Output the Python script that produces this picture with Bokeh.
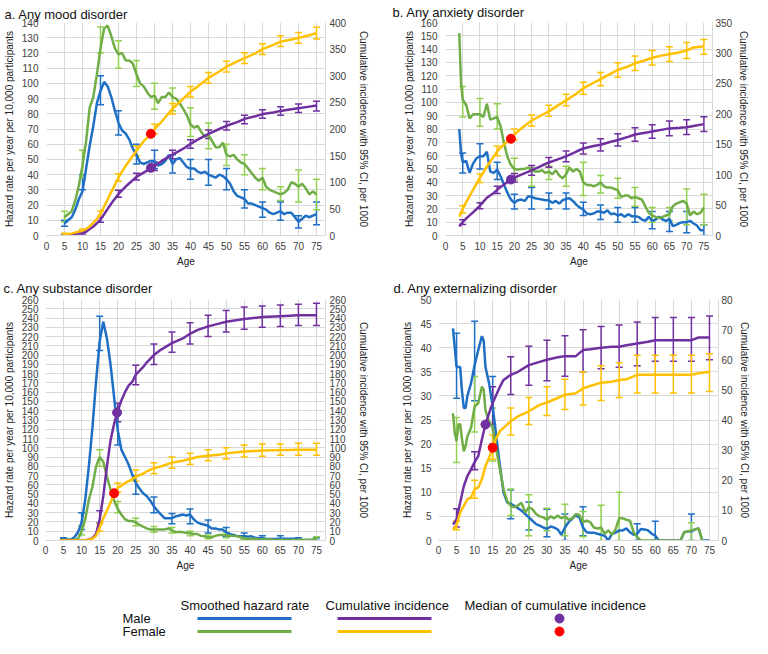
from bokeh.plotting import figure
from bokeh.models import Range1d, LinearAxis, Whisker, ColumnDataSource, FixedTicker, TeeHead
from bokeh.layouts import column, row
from bokeh.embed import file_html
from bokeh.resources import INLINE
from bokeh.core.properties import value

# ---------------- data ----------------
err_ages = [5, 10, 15, 20, 25, 30, 35, 40, 45, 50, 55, 60, 65, 70, 75]

# a. Any mood disorder
a_haz_age = list(range(5, 76))
a_male_haz = [8, 10, 12, 17, 24, 29, 44, 59, 72, 87, 95, 101, 98, 91, 82, 74, 69, 67, 63, 57,
              53, 48, 47, 48, 49, 49, 46, 47, 49, 53, 47, 50, 51, 48, 45, 44, 44, 42, 41, 42,
              40, 39, 38, 40, 39, 37, 34, 29, 26, 25, 24, 21, 21, 20, 19, 18, 17, 15, 14, 15,
              16, 14, 15, 15, 12, 9, 11, 13, 12, 13, 14]
a_female_haz = [12, 14, 16, 23, 33, 46, 62, 84, 91, 106, 123, 136, 138, 131, 123, 119, 120, 115, 115, 113,
                106, 100, 98, 94, 91, 92, 87, 91, 91, 94, 91, 90, 87, 83, 79, 73, 71, 72, 68, 65,
                66, 62, 58, 58, 61, 53, 52, 53, 50, 48, 47, 44, 41, 38, 36, 38, 32, 30, 29, 28,
                27, 28, 30, 35, 34, 32, 34, 31, 27, 29, 27]
a_male_haz_lo = [6, 30, 86, 66, 47, 44, 41, 37, 33, 30, 18, 12, 10, 5, 7]
a_male_haz_hi = [10, 40, 105, 82, 60, 56, 53, 50, 50, 44, 30, 22, 22, 13, 22]
a_female_haz_lo = [9, 38, 120, 110, 98, 83, 82, 65, 57, 46, 40, 30, 23, 22, 17]
a_female_haz_hi = [16, 56, 137, 128, 115, 100, 97, 84, 74, 60, 53, 44, 32, 43, 37]
a_cum_age = [4.5, 7, 10, 11, 12, 13, 14, 15, 16, 17, 18, 20, 22, 25, 27, 29, 30, 32, 35, 38,
             40, 42, 45, 48, 50, 53, 55, 58, 60, 63, 65, 68, 70, 73, 75]
a_male_cum = [0, 2, 5, 7, 12, 17, 23, 30, 40, 50, 60, 78, 92, 110, 118, 126, 130, 140, 152, 163,
              172, 180, 191, 200, 206, 213, 219, 224, 228, 231, 234, 237, 239, 242, 244]
a_female_cum = [1, 4, 9, 12, 17, 24, 31, 41, 54, 68, 82, 109, 131, 159, 177, 191, 200, 214, 238, 257,
                270, 280, 296, 308, 317, 327, 333, 342, 350, 358, 364, 368, 371, 376, 380]
a_male_cum_lo = [0, 3, 25, 72, 104, 122, 144, 164, 182, 198, 210, 220, 226, 231, 234]
a_male_cum_hi = [3, 9, 35, 85, 117, 138, 160, 180, 198, 214, 226, 236, 242, 247, 252]
a_female_cum_lo = [0, 6, 36, 102, 150, 191, 228, 260, 286, 307, 323, 340, 355, 361, 369]
a_female_cum_hi = [4, 12, 46, 116, 168, 209, 248, 280, 306, 327, 343, 360, 375, 381, 391]
a_median_age = [29, 29]
a_median_val = [127, 191]

# b. Any anxiety disorder
b_haz_age = [4, 4.5] + list(range(5, 76))
b_male_haz = [80, 62, 55, 56, 47, 54, 58, 59.5, 59.5, 63, 48, 47, 49.5, 44.5, 38, 32, 27, 24.5, 26.5, 27,
              26, 29.5, 29, 28, 27.5, 27, 26.5, 26.5, 24.5, 26, 24, 26.5, 27.5, 28, 26, 23, 21, 19.5,
              16.5, 16, 16.5, 18, 18, 17, 19, 16, 16.5, 15, 16, 14, 16, 14.5, 14.5, 14, 12, 11, 14, 11,
              12, 14, 12, 11, 12.5, 7, 8, 9.5, 10, 10, 11, 9, 7.5, 4, 4]
b_female_haz = [152, 115, 102, 98, 88, 91, 91, 91, 89, 99, 87, 88, 89, 82, 69, 59, 53, 50, 49.5, 50,
                50, 51, 49, 48, 48, 49, 47, 48, 46, 49, 45, 43, 46, 51, 48, 50, 48, 40, 38, 38,
                37, 38, 40, 37, 36, 36, 35, 34, 29, 30, 30, 28, 29, 28, 27, 22, 17, 15, 14, 13,
                14, 15, 16, 22, 24, 25, 26, 24, 15, 18, 16, 17, 21]
b_male_haz_lo = [47, 50, 42, 20, 20, 20, 20, 15, 12, 10, 10, 5, 3, 2, 0]
b_male_haz_hi = [62, 69, 55, 31, 36, 32, 32, 25, 23, 21, 21, 18, 18, 18, 8]
b_female_haz_lo = [89, 82, 80, 42, 37, 42, 37, 30, 32, 28, 22, 10, 11, 8, 8]
b_female_haz_hi = [112, 103, 99, 58, 51, 52, 52, 55, 45, 43, 36, 21, 21, 35, 31]
b_cum_age = [4, 5, 6, 7, 8, 10, 12, 14, 15, 17, 19, 20, 22, 25, 28, 30, 33, 35, 38, 40,
             43, 45, 48, 50, 53, 55, 58, 60, 63, 65, 68, 70, 72, 75]
b_male_cum = [15, 22, 28, 33, 38, 49, 62, 70, 75, 84, 92, 95, 100, 107, 115, 120, 126, 130, 138, 143,
              147, 149, 154, 157, 162, 166, 169, 171, 174, 176, 177, 178, 180, 183]
b_female_cum = [31, 44, 55, 65, 75, 95, 113, 130, 138, 150, 159, 166, 176, 189, 198, 204, 215, 222, 233, 242,
                251, 257, 266, 272, 278, 283, 288, 292, 296, 298, 301, 304, 309, 311]
b_male_cum_lo = [18, 44, 69, 88, 99, 112, 121, 134, 139, 147, 155, 160, 164, 166, 171]
b_male_cum_hi = [26, 54, 81, 102, 115, 128, 139, 152, 159, 167, 177, 182, 188, 190, 195]
b_female_cum_lo = [37, 87, 131, 157, 180, 196, 213, 232, 246, 260, 271, 280, 286, 291, 298]
b_female_cum_hi = [49, 101, 147, 175, 198, 214, 232, 252, 268, 284, 295, 304, 310, 317, 322]
b_median_age = [19, 19]
b_median_val = [92, 159]

# c. Any substance disorder
c_haz_age = list(range(4, 76))
c_male_haz = [2, 2, 1, 1, 3.5, 9, 19.5, 44, 80, 122, 172, 215, 236, 218, 190, 154, 119, 98, 90, 82,
              71, 62, 56, 51, 48, 43, 37, 32, 28, 24, 24, 24, 26, 27, 28, 27, 28, 23, 19.5, 18,
              17, 16, 13, 13, 12, 12, 9, 7, 6, 5, 4.5, 4.5, 4, 4.5, 3, 2.5, 2.5, 1.5, 1.5, 1.5,
              1.5, 2, 2, 2, 2, 2, 1, 0.5, 0.5, 0.5, 0.5, 0.5]
c_female_haz = [0.5, 0.5, 0.5, 0.5, 0.5, 2, 10, 23, 44, 58, 80, 90, 85, 69, 55, 43, 34, 28, 23, 21,
                21, 19.5, 17, 15, 13, 12, 12, 12, 12, 12, 13, 11, 9, 9.5, 9, 8, 8, 7, 7, 5,
                4.5, 3.5, 3.5, 5, 6, 6, 6, 5, 5, 4.5, 3.5, 2.5, 2, 2, 2, 1, 1, 1, 1, 0.5,
                0.5, 0.5, 0.5, 0.5, 0.5, 0.5, 0.5, 0.5, 0.5, 0.5, 1, 2.5]
c_male_haz_lo = [1, 12, 205, 103, 50, 30, 18, 18, 8, 4, 1, 0, 0, 0, 0]
c_male_haz_hi = [3, 30, 242, 140, 70, 47, 29, 34, 22, 14, 8, 5, 5, 3, 3]
c_female_err_ages = [10, 15, 20, 25, 30, 35, 40, 45, 50, 55, 60, 65, 70, 75]
c_female_haz_lo = [6, 80, 30, 16, 9, 8, 5, 2, 3, 1, 0, 0, 0, 0]
c_female_haz_hi = [16, 98, 42, 24, 15, 14, 10, 6, 9, 5, 3, 2, 2, 4]
c_cum_age = [4, 8, 10, 11, 12, 13, 14, 15, 16, 17, 18, 19, 20, 21, 22, 23, 24, 25, 27, 28,
             30, 32, 35, 38, 40, 42, 45, 48, 50, 55, 60, 65, 70, 75]
c_male_cum = [0, 0, 0, 0.4, 1, 2.5, 7, 23, 48, 80, 108, 126, 140, 151, 160, 167, 171, 179, 187, 192,
              200, 206, 213, 218, 223, 227, 231, 234, 236, 239, 241, 242, 243, 243]
c_female_cum = [0, 0, 0, 0.3, 0.7, 2, 5, 14, 24, 32, 41, 50, 57, 59, 62, 64, 66, 69, 72, 74.5,
                78, 80, 84, 86, 88, 90, 91.5, 92.5, 94, 96, 97, 97.5, 98, 98]
c_cum_err_ages = [15, 20, 25, 30, 35, 40, 45, 50, 55, 60, 65, 70, 75]
c_male_cum_lo = [19, 128, 168, 190, 203, 212, 220, 225, 228, 230, 231, 232, 232]
c_male_cum_hi = [32, 148, 189, 212, 225, 235, 243, 248, 252, 253, 254, 255, 256]
c_female_cum_lo = [10, 52, 64, 72, 78, 82, 86, 88, 90, 91, 92, 92, 92]
c_female_cum_hi = [18, 62, 76, 84, 90, 94, 98, 100, 103, 104, 104, 105, 105]
c_median_age = [19.8, 19]
c_median_val = [138, 51]

# d. Any externalizing disorder
d_haz_age = [4, 4.5, 5, 5.5, 6, 6.5, 7, 7.5, 8, 9, 10, 11, 12, 12.5] + list(range(13, 76))
d_male_haz = [44, 40, 36, 36, 36, 31, 27.5, 27.5, 30, 32.6, 36.4, 39.5, 42.4, 41.5,
              36, 32.6, 27.8, 21.6, 15.5, 10, 7.9, 7.6, 7.2, 6.7, 6.2, 5.5, 4.8, 4.1, 3.4, 3.1,
              2.7, 2.4, 2.9, 2.7, 2.3, 1.2, 2.7, 3.8, 4.5, 5.2, 4.8, 2.7, 1.7, 1.6, 1.6, 1.4,
              1.2, 1.0, 0, 1.4, 1.6, 2.1, 2.1, 2.5, 1.7, 1.2, 1.4, 2.4, 2.3, 2.1, 1.4, 1.0,
              0, 0, 0, 0, 0, 0, 0, 1.7, 1.9, 1.9, 2.3, 2.5, 0, 0, 0]
d_female_haz = [26.4, 22.3, 20.6, 24, 24.2, 21, 18.5, 19.6, 21.6, 23.4, 27.8, 28.5, 31.9, 31.3,
                27, 24.7, 23.4, 18.9, 14.8, 10.6, 8.2, 7.2, 6.9, 7.3, 7.8, 5.8, 6.9, 6.5, 5.5, 5,
                4.8, 4.3, 5, 4.6, 5.2, 4.6, 5, 4.3, 4.6, 5.5, 5.3, 3.8, 4.1, 3.8, 2.7, 2.5,
                2.7, 1.4, 2.1, 1.2, 2.3, 4.6, 4.6, 4.3, 4.1, 1.7, 0.7, 0, 0, 0, 0, 0,
                0, 0, 0, 0, 0, 0, 0, 1.7, 1.9, 2.1, 2.3, 2.5, 0]
d_male_err_ages = [5, 10, 15, 20, 25, 30, 35, 40, 55, 60, 70]
d_male_haz_lo = [29.5, 29, 20, 4.5, 2.2, 0.8, 0, 1, 0, 0, 0]
d_male_haz_hi = [43, 45.5, 34, 10.5, 8, 6.5, 5.5, 7, 3.5, 4, 5.5]
d_female_err_ages = [5, 10, 15, 20, 25, 30, 35, 40, 45, 50, 70]
d_female_haz_lo = [16.2, 22.5, 16.5, 5.2, 1, 2, 1, 0.8, 0, 0, 0]
d_female_haz_hi = [25.5, 34, 27.5, 10.7, 9.5, 6.7, 7.5, 6, 7.3, 10, 3.7]
d_cum_age = [4, 5, 6, 7, 8, 9, 10, 11, 12, 13, 14, 15, 16, 17, 18, 20, 22, 25, 28, 30,
             33, 35, 38, 40, 42, 45, 48, 50, 52, 55, 58, 60, 65, 70, 72, 75]
d_male_cum = [5.3, 7, 12.6, 18, 21.4, 23.6, 26, 28, 33.5, 38.5, 42.3, 45.6, 48.4, 51, 53.3, 55, 56, 58.2, 59.3, 60,
              60.8, 61.2, 61.2, 63.2, 63.5, 64, 64.3, 64.3, 64.8, 65.4, 66, 66.5, 66.5, 66.5, 67.4, 67.4]
d_female_cum = [3.6, 5, 9.3, 11.5, 13.7, 14.3, 17, 17.6, 20.3, 24.7, 27.5, 30.8, 34, 36.3, 37.4, 39.6, 41.2, 42.9, 45, 45.8,
                47.3, 48.4, 48.9, 50.5, 51.3, 52.4, 52.7, 53.3, 53.5, 55, 55, 55, 55, 55, 55.5, 56]
d_male_cum_lo = [4.5, 23.5, 38.5, 48.5, 51.5, 53, 54.5, 56, 57, 57.5, 58, 59.5, 59.5, 59.5, 60]
d_male_cum_hi = [10.5, 29.5, 51, 61, 64.5, 66.5, 68, 70, 71, 71.5, 72.5, 74, 74, 74, 74.5]
d_female_cum_lo = [3.6, 14, 27, 35, 38.5, 41.5, 43.5, 45, 46.5, 47.5, 49, 49, 49, 49, 49.5]
d_female_cum_hi = [6.5, 20, 35, 44, 47.5, 51, 53.5, 56, 58, 59, 61.5, 61.5, 61.5, 61.5, 62]
d_median_age = [13, 15]
d_median_val = [38.5, 30.8]

x_ticks = list(range(0, 80, 5))
panel_titles = ["a. Any mood disorder", "b. Any anxiety disorder",
                "c. Any substance disorder", "d. Any externalizing disorder"]
legend_headers = ["Smoothed hazard rate", "Cumulative incidence", "Median of cumulative incidence"]
legend_rows = ["Male", "Female"]

# ---------------- style ----------------
FONT = "Liberation Sans"
BLUE = "#1F6FC5"
GREEN = "#70AD47"
GREEN_ERR = "#92D050"
PURPLE = "#7030A0"
YELLOW = "#FFC000"
RED = "#FF0000"
GRID = "#D9D9D9"
TXT = "#404040"


def style_axis(ax, label, lab_standoff, axlab_standoff):
    ax.axis_label = label
    ax.axis_label_text_font = FONT
    ax.axis_label_text_font_size = "10px"
    ax.axis_label_text_font_style = "normal"
    ax.axis_label_text_color = "#222222"
    ax.axis_label_standoff = axlab_standoff
    ax.major_label_text_font = FONT
    ax.major_label_text_font_size = "10px"
    ax.major_label_text_color = TXT
    ax.major_label_standoff = lab_standoff
    ax.axis_line_color = GRID
    ax.major_tick_line_color = None
    ax.minor_tick_line_color = None
    ax.major_tick_out = 0
    ax.major_tick_in = 0
    ax.minor_tick_out = 0
    ax.minor_tick_in = 0


def whisker(p, ages, lo, hi, color, rng="default"):
    src = ColumnDataSource(dict(x=ages, lo=lo, hi=hi))
    w = Whisker(source=src, base="x", upper="hi", lower="lo", line_color=color, line_width=1.5,
                upper_head=TeeHead(size=7, line_color=color, line_width=1.5),
                lower_head=TeeHead(size=7, line_color=color, line_width=1.5),
                y_range_name=rng)
    p.add_layout(w)


def make_panel(title, width, height, borders, title_off, title_standoff, standoffs,
               left_max, left_step, right_max, right_step,
               haz_age, male_haz, female_haz, male_err, female_err,
               cum_age, male_cum, female_cum, male_cerr, female_cerr, med_age, med_val):
    bl, br, bt, bb = borders
    p = figure(width=width, height=height, x_range=Range1d(0, 77.5), y_range=Range1d(0, left_max),
               output_backend="svg", toolbar_location=None,
               min_border_left=bl, min_border_right=br, min_border_top=bt, min_border_bottom=bb,
               outline_line_color=None)
    p.extra_y_ranges = {"cum": Range1d(0, right_max)}
    p.title.text = title
    p.title.text_font = FONT
    p.title.text_font_size = "13px"
    p.title.text_font_style = "normal"
    p.title.text_color = "#111111"
    p.title.offset = title_off
    p.title.standoff = title_standoff

    ls, las, rs, ras, bs, bas = standoffs
    style_axis(p.xaxis[0], "Age", bs, bas)
    p.xaxis[0].ticker = FixedTicker(ticks=x_ticks)
    style_axis(p.yaxis[0], "Hazard rate per year per 10,000 participants", ls, las)
    p.yaxis[0].ticker = FixedTicker(ticks=list(range(0, left_max + 1, left_step)))
    p.yaxis[0].axis_line_color = None
    rax = LinearAxis(y_range_name="cum", ticker=FixedTicker(ticks=list(range(0, right_max + 1, right_step))))
    style_axis(rax, "Cumulative incidence with 95% CI, per 1000", rs, ras)
    p.add_layout(rax, "right")

    p.xgrid.ticker = FixedTicker(ticks=x_ticks)
    p.ygrid.ticker = FixedTicker(ticks=list(range(0, left_max + 1, left_step)))
    p.grid.grid_line_color = GRID
    p.grid.grid_line_width = 1

    # hazard rates
    whisker(p, male_err[0], male_err[1], male_err[2], BLUE)
    whisker(p, female_err[0], female_err[1], female_err[2], GREEN_ERR)
    p.line(haz_age, male_haz, line_color=BLUE, line_width=2.5)
    p.line(haz_age, female_haz, line_color=GREEN, line_width=2.5)
    # cumulative incidence
    whisker(p, male_cerr[0], male_cerr[1], male_cerr[2], PURPLE, "cum")
    whisker(p, female_cerr[0], female_cerr[1], female_cerr[2], YELLOW, "cum")
    p.line(cum_age, male_cum, line_color=PURPLE, line_width=2.5, y_range_name="cum")
    p.line(cum_age, female_cum, line_color=YELLOW, line_width=2.5, y_range_name="cum")
    p.scatter(med_age, med_val, color=[PURPLE, RED], size=9, y_range_name="cum")
    return p


TOP_H = 274
BOT_H = 300
LEG_H = 64

pa = make_panel(panel_titles[0], 376, TOP_H, (43, 51, 15, 39), -42, 1, (8, 4, 4, 9, 6, 3),
                140, 10, 400, 50,
                a_haz_age, a_male_haz, a_female_haz,
                (err_ages, a_male_haz_lo, a_male_haz_hi), (err_ages, a_female_haz_lo, a_female_haz_hi),
                a_cum_age, a_male_cum, a_female_cum,
                (err_ages, a_male_cum_lo, a_male_cum_hi), (err_ages, a_female_cum_lo, a_female_cum_hi),
                a_median_age, a_median_val)
pb = make_panel(panel_titles[1], 376, TOP_H, (69, 35, 21, 39), -53, 5, (8, 3, 3, 3, 6, 3),
                160, 10, 350, 50,
                b_haz_age, b_male_haz, b_female_haz,
                (err_ages, b_male_haz_lo, b_male_haz_hi), (err_ages, b_female_haz_lo, b_female_haz_hi),
                b_cum_age, b_male_cum, b_female_cum,
                (err_ages, b_male_cum_lo, b_male_cum_hi), (err_ages, b_female_cum_lo, b_female_cum_hi),
                b_median_age, b_median_val)
pc = make_panel(panel_titles[2], 376, BOT_H, (43, 51, 25, 34), -42, 8, (7, 4, 4, 9, 5, 3),
                260, 10, 260, 10,
                c_haz_age, c_male_haz, c_female_haz,
                (err_ages, c_male_haz_lo, c_male_haz_hi), (c_female_err_ages, c_female_haz_lo, c_female_haz_hi),
                c_cum_age, c_male_cum, c_female_cum,
                (c_cum_err_ages, c_male_cum_lo, c_male_cum_hi), (c_cum_err_ages, c_female_cum_lo, c_female_cum_hi),
                c_median_age, c_median_val)
pd_ = make_panel(panel_titles[3], 376, BOT_H, (62, 29, 25, 34), -45, 8, (7, 4, 3, 3, 5, 3),
                 50, 5, 80, 10,
                 d_haz_age, d_male_haz, d_female_haz,
                 (d_male_err_ages, d_male_haz_lo, d_male_haz_hi), (d_female_err_ages, d_female_haz_lo, d_female_haz_hi),
                 d_cum_age, d_male_cum, d_female_cum,
                 (err_ages, d_male_cum_lo, d_male_cum_hi), (err_ages, d_female_cum_lo, d_female_cum_hi),
                 d_median_age, d_median_val)

# ---------------- legend (y measured upward from the bottom of the strip) ----------------
leg = figure(width=752, height=LEG_H, x_range=Range1d(0, 752), y_range=Range1d(0, LEG_H),
             output_backend="svg", toolbar_location=None, min_border=0,
             x_axis_location=None, y_axis_location=None, outline_line_color=None)
leg.grid.visible = False
ROW_HEAD, ROW_M, ROW_F = LEG_H - 31, LEG_H - 44, LEG_H - 57
leg.text(x=[180, 325, 464], y=[ROW_HEAD] * 3, text=legend_headers, text_font=value(FONT),
         text_font_size="13px", text_color="#111111", text_baseline="middle", text_align="left")
leg.text(x=[122, 122], y=[ROW_M, ROW_F], text=legend_rows, text_font=value(FONT),
         text_font_size="13px", text_color="#111111", text_baseline="middle", text_align="left")
# legend line swatches drawn as dash markers, the same glyph type as the dots
leg.scatter(x=[244, 244, 384, 384], y=[ROW_M, ROW_F, ROW_M, ROW_F], marker="dash", size=94,
            line_color=[BLUE, GREEN, PURPLE, YELLOW], line_width=3)
leg.scatter(x=[559, 559], y=[ROW_M, ROW_F], color=[PURPLE, RED], size=9)

layout = column(row(pa, pb), row(pc, pd_), leg, spacing=0)
open("out.html", "w").write(file_html(layout, INLINE))
